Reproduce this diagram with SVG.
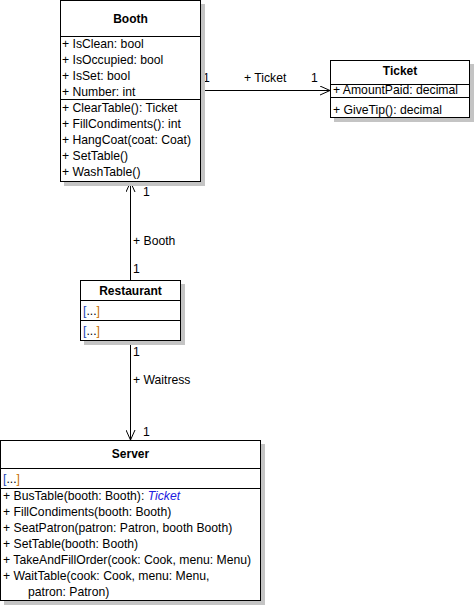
<svg xmlns="http://www.w3.org/2000/svg" width="475" height="605" viewBox="0 0 475 605">
<defs>
<style>
text{font-family:"Liberation Sans",Arial,sans-serif;font-size:12.2px;fill:#000}
.t{font-weight:bold;text-anchor:middle;font-size:12px}
.box{fill:#fff;stroke:#000;stroke-width:1}
.sh{fill:#c4c4c4}
.sep{stroke:#000;stroke-width:1}
.ln{stroke:#000;stroke-width:1;fill:none}
.ob{fill:#1a3fb0}
.cb{fill:#c87000}
.it{font-style:italic;fill:#2020e0}
</style>
<marker id="open" viewBox="0 0 10 10" refX="10" refY="5" markerWidth="10" markerHeight="10" markerUnits="userSpaceOnUse" orient="auto">
<path d="M0,0.5 L10,5 L0,9.5" fill="none" stroke="#000" stroke-width="1"/>
</marker>
</defs>
<rect width="475" height="605" fill="#fff"/>

<g id="connectors">
<line class="ln" x1="200.5" y1="90.5" x2="330" y2="90.5" marker-end="url(#open)"/>
<text x="203" y="82">1</text>
<text x="244" y="82">+ Ticket</text>
<text x="311" y="82">1</text>
<line class="ln" x1="130.5" y1="280" x2="130.5" y2="182" marker-end="url(#open)"/>
<text x="143" y="196">1</text>
<text x="133" y="245">+ Booth</text>
<text x="133" y="273">1</text>
<line class="ln" x1="130.5" y1="341" x2="130.5" y2="440" marker-end="url(#open)"/>
<text x="133" y="356">1</text>
<text x="133" y="384">+ Waitress</text>
<text x="143" y="436">1</text>
</g>

<g id="booth">
<rect class="sh" x="64" y="4" width="141" height="182"/>
<rect class="box" x="60.5" y="0.5" width="140" height="181"/>
<line class="sep" x1="60.5" y1="36.5" x2="200.5" y2="36.5"/>
<line class="sep" x1="60.5" y1="99.5" x2="200.5" y2="99.5"/>
<text class="t" x="130.5" y="23">Booth</text>
<text x="62" y="48">+ IsClean: bool</text>
<text x="62" y="64">+ IsOccupied: bool</text>
<text x="62" y="80">+ IsSet: bool</text>
<text x="62" y="96">+ Number: int</text>
<text x="62" y="112">+ ClearTable(): Ticket</text>
<text x="62" y="128">+ FillCondiments(): int</text>
<text x="62" y="144">+ HangCoat(coat: Coat)</text>
<text x="62" y="160">+ SetTable()</text>
<text x="62" y="176">+ WashTable()</text>
</g>

<g id="ticket">
<rect class="sh" x="334" y="64" width="140" height="58"/>
<rect class="box" x="330.5" y="60.5" width="139" height="57"/>
<line class="sep" x1="330.5" y1="84.5" x2="469.5" y2="84.5"/>
<line class="sep" x1="330.5" y1="97.5" x2="469.5" y2="97.5"/>
<text class="t" x="400" y="75">Ticket</text>
<text x="333" y="94">+ AmountPaid: decimal</text>
<text x="333" y="114">+ GiveTip(): decimal</text>
</g>

<g id="restaurant">
<rect class="sh" x="84" y="284" width="101" height="61"/>
<rect class="box" x="80.5" y="280.5" width="100" height="60"/>
<line class="sep" x1="80.5" y1="300.5" x2="180.5" y2="300.5"/>
<line class="sep" x1="80.5" y1="320.5" x2="180.5" y2="320.5"/>
<text class="t" x="130.5" y="295">Restaurant</text>
<text x="83" y="315"><tspan class="ob">[</tspan>...<tspan class="cb">]</tspan></text>
<text x="83" y="335"><tspan class="ob">[</tspan>...<tspan class="cb">]</tspan></text>
</g>

<g id="server">
<rect class="sh" x="4" y="444" width="261" height="161"/>
<rect class="box" x="0.5" y="440.5" width="260" height="160"/>
<line class="sep" x1="0.5" y1="468.5" x2="260.5" y2="468.5"/>
<line class="sep" x1="0.5" y1="488.5" x2="260.5" y2="488.5"/>
<text class="t" x="130.5" y="458">Server</text>
<text x="3" y="483"><tspan class="ob">[</tspan>...<tspan class="cb">]</tspan></text>
<text x="3" y="500">+ BusTable(booth: Booth): <tspan class="it">Ticket</tspan></text>
<text x="3" y="516">+ FillCondiments(booth: Booth)</text>
<text x="3" y="532">+ SeatPatron(patron: Patron, booth Booth)</text>
<text x="3" y="548">+ SetTable(booth: Booth)</text>
<text x="3" y="564">+ TakeAndFillOrder(cook: Cook, menu: Menu)</text>
<text x="3" y="580">+ WaitTable(cook: Cook, menu: Menu,</text>
<text x="28" y="596">patron: Patron)</text>
</g>
</svg>
